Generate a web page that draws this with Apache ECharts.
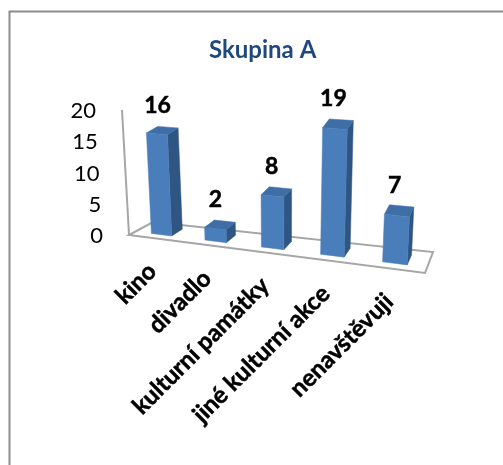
<!DOCTYPE html>
<html>
<head>
<meta charset="utf-8">
<style>html,body{margin:0;padding:0;background:#fff}#c{width:503px;height:465px}</style>
<script src="https://cdn.jsdelivr.net/npm/echarts@6/dist/echarts.min.js"></script>
</head>
<body>
<div id="c"></div>
<script>
const categories = ['kino', 'divadlo', 'kulturní památky', 'jiné kulturní akce', 'nenavštěvuji'];
const visitors = [16, 2, 8, 19, 7];
const valueTicks = [0, 5, 10, 15, 20];

const FONT = 'Lato, "Open Sans", sans-serif';
const GRID = { left: 129, top: 109, width: 296, height: 126 };

// Oblique view of the plot: flat grid pixels plus a depth in [0,1] go to screen pixels.
function project(px, py, depth) {
  const s = (px - GRID.left) / GRID.width;
  const t = 0.88 * s + 0.12 * s * s;
  const v = (GRID.top + GRID.height - py) / GRID.height * 20;
  const baseX = GRID.left + GRID.width * t + (24 - 16 * t) * depth;
  const baseY = GRID.top + GRID.height + 38 * t - (13 + 8 * t) * depth;
  return [baseX + (-0.35 + 0.72 * t) * v, baseY - (6.25 + 0.65 * t) * v];
}

function polygon(points, fill, stroke) {
  return {
    type: 'polygon',
    shape: { points },
    style: { fill, stroke: stroke || fill, lineWidth: stroke ? 2 : 0.5 }
  };
}

function renderBar(params, api) {
  const i = api.value(0);
  const value = api.value(1);
  const bottom = api.coord([i, 0]);
  const top = api.coord([i, value]);
  const half = api.size([1, 0])[0] * 0.385 / 2;
  const frontD = 0.27, backD = 0.75;
  const p = project;
  const l = bottom[0] - half, r = bottom[0] + half;
  const fl = p(l, bottom[1], frontD), fr = p(r, bottom[1], frontD);
  const tl = p(l, top[1], frontD), tr = p(r, top[1], frontD);
  const brb = p(r, bottom[1], backD), brt = p(r, top[1], backD), blt = p(l, top[1], backD);
  const labelAt = p(bottom[0], top[1], 0.5);
  return {
    type: 'group',
    children: [
      polygon([fr, brb, brt, tr], '#2f5582'),
      polygon([tl, tr, brt, blt], '#3f6ea6'),
      polygon([fl, fr, tr, tl], '#4a7ebb'),
      {
        type: 'text',
        style: {
          text: String(value), x: labelAt[0] - 4.5, y: labelAt[1] - 25.5,
          fill: '#000', stroke: '#000', lineWidth: 0.5,
          font: 'bold 23px ' + FONT, align: 'center', verticalAlign: 'middle'
        }
      }
    ]
  };
}

function renderFloor(params, api) {
  if (params.dataIndex !== 0) return null;
  const band = api.size([1, 0])[0];
  const zero = api.coord([0, 0]);
  const x0 = zero[0] - band / 2;
  const x1 = x0 + band * categories.length;
  const yTop = api.coord([0, valueTicks[valueTicks.length - 1]])[1];
  const wallFoot = project(x0, zero[1], 0);
  const wallHead = project(x0, yTop, 0);
  const stroke = '#a6a6a6';
  return {
    type: 'group',
    children: [
      polygon([wallFoot, project(x1, zero[1], 0), project(x1, zero[1], 1), project(x0, zero[1], 1)], '#fff', stroke),
      { type: 'line',
        shape: { x1: wallFoot[0], y1: wallFoot[1], x2: wallHead[0], y2: wallHead[1] },
        style: { stroke, lineWidth: 2 } }
    ]
  };
}

function renderCategoryLabel(params, api) {
  const i = api.value(0);
  const c = api.coord([i, 0]);
  const a = project(c[0], c[1], 0);
  return {
    type: 'text',
    x: a[0] - 3, y: a[1] + 29, rotation: Math.PI / 4,
    style: {
      text: categories[i], fill: '#000', stroke: '#000', lineWidth: 0.5,
      font: 'bold 24px ' + FONT, align: 'right', verticalAlign: 'middle'
    }
  };
}

function renderTickLabel(params, api) {
  const v = api.value(1);
  const c = api.coord([0, v]);
  const a = project(c[0] - api.size([1, 0])[0] / 2, c[1], 0);
  return {
    type: 'text',
    x: a[0] - 26, y: a[1] + 1,
    style: { text: String(v), fill: '#000', font: '22px ' + FONT, align: 'right', verticalAlign: 'middle' }
  };
}

const chart = echarts.init(document.getElementById('c'), null, { renderer: 'canvas' });
chart.setOption({
  animation: false,
  backgroundColor: '#fff',
  title: {
    text: 'Skupina A', left: 204, top: 33,
    textStyle: { color: '#1f497d', fontFamily: FONT, fontWeight: 'bold', fontSize: 24 }
  },
  graphic: [{
    type: 'rect', silent: true,
    shape: { x: 9.5, y: 11.5, width: 600, height: 600 },
    style: { fill: 'none', stroke: '#8c8c8c', lineWidth: 2 }
  }],
  grid: GRID,
  xAxis: { type: 'category', data: categories, show: false },
  yAxis: { type: 'value', min: 0, max: 20, interval: 5, show: false },
  series: [
    { type: 'custom', coordinateSystem: 'cartesian2d', z: 1, renderItem: renderFloor,
      encode: { x: 0, y: 1 }, data: visitors.map((v, i) => [i, v]), silent: true, clip: false },
    { type: 'custom', coordinateSystem: 'cartesian2d', z: 3, renderItem: renderBar,
      encode: { x: 0, y: 1 }, data: visitors.map((v, i) => [i, v]), clip: false },
    { type: 'custom', coordinateSystem: 'cartesian2d', z: 4, renderItem: renderCategoryLabel,
      encode: { x: 0, y: 1 }, data: categories.map((c, i) => [i, 0]), silent: true, clip: false },
    { type: 'custom', coordinateSystem: 'cartesian2d', z: 4, renderItem: renderTickLabel,
      encode: { x: 0, y: 1 }, data: valueTicks.map(v => [0, v]), silent: true, clip: false }
  ]
});
</script>
</body>
</html>
